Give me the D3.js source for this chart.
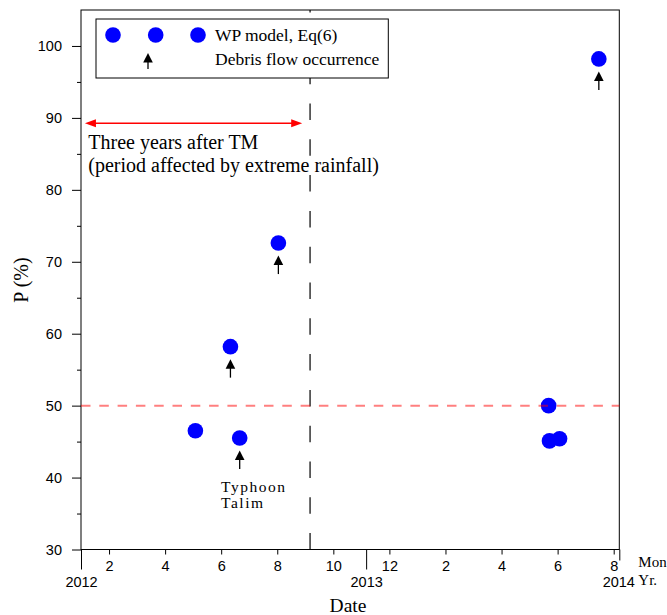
<!DOCTYPE html>
<html>
<head>
<meta charset="utf-8">
<script src="https://cdn.jsdelivr.net/npm/d3@7"></script>
<style>
  body { margin: 0; background: #fff; }
  svg { display: block; }
</style>
</head>
<body>
<div id="chart"></div>
<script>
// month index: 1 = Jan 2012, 13 = Jan 2013
const monthIndex = [5.08, 6.33, 6.66, 8.04, 17.68, 17.71, 18.07, 19.47];
const probability = [46.5, 58.2, 45.5, 72.6, 50.0, 45.1, 45.4, 98.2];
const debrisFlow = [false, true, true, true, false, false, false, true];

const monthTicks = [2, 4, 6, 8, 10, 12, 14, 16, 18, 20];
const monthLabels = ['2', '4', '6', '8', '10', '12', '2', '4', '6', '8'];
const yearTicks = [1, 11.17, 20.2];
const yearLabels = ['2012', '2013', '2014'];
const yMajorTicks = [30, 40, 50, 60, 70, 80, 90, 100];
const yMinorTicks = [35, 45, 55, 65, 75, 85, 95];

const threshold = 50;
const periodEnd = 9.17;
const periodArrow = [1.14, 8.89];
const periodLevel = 89.25;

const serif = "'Liberation Serif', 'Times New Roman', serif";
const sans = "'Liberation Sans', Arial, sans-serif";

const width = 667;
const height = 615;

const svg = d3.select('#chart')
    .append('svg')
    .attr('width', width)
    .attr('height', height);

const x = d3.scaleLinear().domain([1, 20.2]).range([81, 619.3]);
const y = d3.scaleLinear().domain([30, 105]).range([549.5, 10]);

const x0 = x.range()[0], x1 = x.range()[1];
const yTop = y(105), yBot = y(30);

// y axis
const yAxis = svg.append('g')
    .attr('transform', `translate(${x0},0)`)
    .call(d3.axisLeft(y).tickValues(yMajorTicks).tickSize(9).tickPadding(10))
    .attr('font-family', sans)
    .attr('font-size', 14.5);
yAxis.select('.domain').remove();
yAxis.selectAll('line').attr('stroke', '#000');

const yMinor = svg.append('g')
    .attr('transform', `translate(${x0},0)`)
    .call(d3.axisLeft(y).tickValues(yMinorTicks).tickSize(4).tickFormat(''));
yMinor.select('.domain').remove();

// x axis: months
const xMonths = svg.append('g')
    .attr('transform', `translate(0,${yBot})`)
    .call(d3.axisBottom(x).tickValues(monthTicks).tickSize(5).tickPadding(6)
        .tickFormat((d, i) => monthLabels[i]))
    .attr('font-family', sans)
    .attr('font-size', 14.5);
xMonths.select('.domain').remove();

// x axis: years
const xYears = svg.append('g')
    .attr('transform', `translate(0,${yBot})`)
    .call(d3.axisBottom(x).tickValues(yearTicks).tickSize(20).tickPadding(7.5)
        .tickFormat((d, i) => yearLabels[i]))
    .attr('font-family', sans)
    .attr('font-size', 14.5);
xYears.select('.domain').remove();
xYears.selectAll('.tick').filter((d, i) => i === yearTicks.length - 1)
    .select('line').attr('y2', 11);
xYears.selectAll('.tick').filter((d, i) => i === yearTicks.length - 1)
    .select('text').attr('dx', -1);

// frame
svg.append('rect')
    .attr('x', x0).attr('y', yTop)
    .attr('width', x1 - x0).attr('height', yBot - yTop)
    .attr('fill', 'none').attr('stroke', '#000').attr('stroke-width', 1);

// vertical dashed line, end of the 3-year period
svg.append('line')
    .attr('x1', x(periodEnd)).attr('x2', x(periodEnd))
    .attr('y1', yTop).attr('y2', yBot)
    .attr('stroke', '#000').attr('stroke-width', 1.2)
    .attr('stroke-dasharray', '16.5,19.3')
    .attr('stroke-dashoffset', 13.9);

// points
svg.selectAll('.dot')
    .data(monthIndex)
    .enter()
    .append('circle')
    .attr('class', 'dot')
    .attr('cx', d => x(d))
    .attr('cy', (d, i) => y(probability[i]))
    .attr('r', 7.8)
    .attr('fill', '#0000ff');

// threshold line
svg.append('line')
    .attr('x1', x0).attr('x2', x1)
    .attr('y1', y(threshold)).attr('y2', y(threshold))
    .attr('stroke', '#ff0000').attr('stroke-opacity', 0.5)
    .attr('stroke-width', 2)
    .attr('stroke-dasharray', '9.5,8.8');

function upArrow(g, ax, tipY, bottomY) {
    g.append('line')
        .attr('x1', ax).attr('x2', ax)
        .attr('y1', tipY + 8).attr('y2', bottomY)
        .attr('stroke', '#000').attr('stroke-width', 1.3);
    g.append('path')
        .attr('d', `M${ax},${tipY}L${ax + 4.8},${tipY + 9.5}L${ax - 4.8},${tipY + 9.5}Z`)
        .attr('fill', '#000');
}

// debris flow arrows
monthIndex.forEach((m, i) => {
    if (!debrisFlow[i]) return;
    const cy = y(probability[i]);
    upArrow(svg, x(m), cy + 12.5, cy + 31);
});

// red double arrow
const pa = svg.append('g');
const ax1 = x(periodArrow[0]), ax2 = x(periodArrow[1]), ay = y(periodLevel);
pa.append('line')
    .attr('x1', ax1 + 8).attr('x2', ax2 - 8)
    .attr('y1', ay).attr('y2', ay)
    .attr('stroke', '#ff0000').attr('stroke-width', 1.5);
pa.append('path')
    .attr('d', `M${ax1},${ay}L${ax1 + 11},${ay - 4}L${ax1 + 11},${ay + 4}Z`)
    .attr('fill', '#ff0000');
pa.append('path')
    .attr('d', `M${ax2},${ay}L${ax2 - 11},${ay - 4}L${ax2 - 11},${ay + 4}Z`)
    .attr('fill', '#ff0000');

svg.append('text')
    .attr('x', x(1.26)).attr('y', y(85.64))
    .attr('font-family', serif).attr('font-size', 20)
    .text('Three years after TM');
svg.append('text')
    .attr('x', x(1.26)).attr('y', y(85.64) + 22.4)
    .attr('font-family', serif).attr('font-size', 20)
    .text('(period affected by extreme rainfall)');

// Typhoon Talim label
const talim = svg.append('text')
    .attr('font-family', serif).attr('font-size', 15.5)
    .attr('letter-spacing', 1.5);
talim.append('tspan').attr('x', x(monthIndex[2]) - 18.6).attr('y', y(38.05)).text('Typhoon');
talim.append('tspan').attr('x', x(monthIndex[2]) - 18.6).attr('y', y(38.05) + 16).text('Talim');

// legend
const legend = svg.append('g');
legend.append('rect')
    .attr('x', 96).attr('y', 19)
    .attr('width', 292.3).attr('height', 59)
    .attr('fill', '#fff').attr('stroke', '#000').attr('stroke-width', 1);
[113, 155.7, 198].forEach(cx => {
    legend.append('circle').attr('cx', cx).attr('cy', 35).attr('r', 7.8).attr('fill', '#0000ff');
});
upArrow(legend, 148, 53, 69);
legend.append('text')
    .attr('x', 215).attr('y', 40.7)
    .attr('font-family', serif).attr('font-size', 17.5)
    .text('WP model, Eq(6)');
legend.append('text')
    .attr('x', 215).attr('y', 65)
    .attr('font-family', serif).attr('font-size', 17.5)
    .text('Debris flow occurrence');

// axis names
svg.append('text')
    .attr('text-anchor', 'middle')
    .attr('x', 348).attr('y', 611.5)
    .attr('font-family', serif).attr('font-size', 19.5)
    .text('Date');

svg.append('text')
    .attr('text-anchor', 'middle')
    .attr('transform', 'rotate(-90)')
    .attr('x', -280).attr('y', 28)
    .attr('font-family', serif).attr('font-size', 20)
    .text('P (%)');

svg.append('text')
    .attr('x', 638.3).attr('y', 566.7)
    .attr('font-family', serif).attr('font-size', 15)
    .text('Mon');
svg.append('text')
    .attr('x', 638.3).attr('y', 585)
    .attr('font-family', serif).attr('font-size', 15)
    .text('Yr.');
</script>
</body>
</html>
